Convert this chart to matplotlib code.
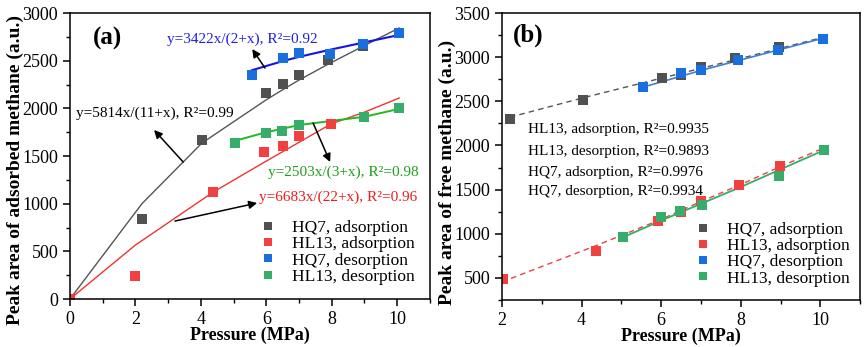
import matplotlib.pyplot as plt
from matplotlib.ticker import MultipleLocator

plt.rcParams['font.family'] = ['Liberation Serif', 'DejaVu Serif']
plt.rcParams['font.size'] = 13

# ---- panel (a): adsorbed methane ----
p_hq7_ads = [0, 2.2, 4.03, 6.0, 6.5, 7.0, 7.9, 8.97]
a_hq7_ads = [0, 840, 1668, 2160, 2255, 2350, 2505, 2652]
p_hl13_ads = [0, 2.0, 4.38, 5.93, 6.5, 7.0, 7.98, 9.0]
a_hl13_ads = [0, 245, 1122, 1542, 1605, 1710, 1836, 1905]
p_hq7_des = [5.56, 6.5, 7.0, 7.95, 8.97, 10.06]
a_hq7_des = [2350, 2527, 2578, 2575, 2670, 2790]
p_hl13_des = [5.05, 6.0, 6.48, 7.0, 9.0, 10.07]
a_hl13_des = [1640, 1740, 1762, 1825, 1909, 2000]

# fitted curves as drawn in the figure
fit_hq7_ads_x = [0, 2.2, 4.03, 6.0, 6.5, 7.0, 7.9, 8.97, 10.06]
fit_hq7_ads_y = [0, 1000, 1635, 2090, 2195, 2297, 2465, 2654, 2843]
fit_hl13_ads_x = [0, 2.0, 4.38, 5.93, 6.5, 7.0, 7.98, 9.0, 10.06]
fit_hl13_ads_y = [0, 566, 1122, 1433, 1545, 1644, 1837, 1960, 2108]
fit_hq7_des_x = [5.56, 6.5, 7.0, 7.95, 8.97, 10.06]
fit_hq7_des_y = [2400, 2495, 2540, 2615, 2690, 2770]
fit_hl13_des_x = [5.05, 6.0, 6.48, 7.0, 9.0, 10.07]
fit_hl13_des_y = [1660, 1750, 1785, 1825, 1912, 1995]

# ---- panel (b): free methane ----
pb_hq7_ads = [2.2, 4.04, 6.03, 6.49, 6.99, 7.86, 8.97]
b_hq7_ads = [2305, 2520, 2769, 2795, 2890, 2995, 3115]
pb_hl13_ads = [2.02, 4.37, 5.93, 6.5, 7.0, 7.96, 8.99]
b_hl13_ads = [485, 800, 1148, 1245, 1366, 1550, 1767]
pb_hq7_des = [5.54, 6.49, 6.99, 7.92, 8.93, 10.07]
b_hq7_des = [2663, 2821, 2852, 2973, 3086, 3210]
pb_hl13_des = [5.04, 6.0, 6.47, 7.02, 8.95, 10.08]
b_hl13_des = [968, 1193, 1254, 1325, 1655, 1950]

fitb_hq7_ads_x = [2.2, 4.04, 6.03, 7.86, 10.07]
fitb_hq7_ads_y = [2320, 2540, 2765, 2970, 3225]
fitb_hl13_ads_x = [2.0, 4.37, 5.93, 7.0, 7.96, 8.99, 10.07]
fitb_hl13_ads_y = [455, 867, 1150, 1365, 1550, 1760, 1970]
fitb_hq7_des_x = [5.54, 7.0, 8.93, 10.07]
fitb_hq7_des_y = [2660, 2850, 3080, 3215]
fitb_hl13_des_x = [5.04, 6.0, 7.0, 8.0, 8.95, 10.08]
fitb_hl13_des_y = [960, 1150, 1340, 1530, 1720, 1945]

labels = ["HQ7, adsorption", "HL13, adsorption", "HQ7, desorption", "HL13, desorption"]
colors = ['#515151', '#F14040', '#1A6FDF', '#37AD6B']
r2_text = ["HL13, adsorption, R²=0.9935", "HL13, desorption, R²=0.9893",
           "HQ7, adsorption, R²=0.9976", "HQ7, desorption, R²=0.9934"]

fig = plt.figure(figsize=(8.68, 3.47), dpi=100)
ax1 = fig.add_axes([0.0806, 0.1383, 0.4147, 0.8242])
ax2 = fig.add_axes([0.5783, 0.1355, 0.4128, 0.8270])

def style(ax):
    for s in ax.spines.values():
        s.set_linewidth(1.1)
    ax.tick_params(which='major', direction='out', length=5, width=1.1, labelsize=13)
    ax.tick_params(which='minor', direction='out', length=3, width=1.0)
    ax.xaxis.set_major_locator(MultipleLocator(2))
    ax.xaxis.set_minor_locator(MultipleLocator(1))
    ax.yaxis.set_major_locator(MultipleLocator(500))
    ax.yaxis.set_minor_locator(MultipleLocator(250))
    ax.set_xlabel("Pressure (MPa)", fontsize=13, fontweight='bold', labelpad=-1)

leg_kw = dict(loc='upper left', frameon=False, fontsize=12.5, borderpad=0, borderaxespad=0,
              labelspacing=0.0, handlelength=1.0, handletextpad=0.9, markerscale=0.75)

# panel (a)
ax1.plot(fit_hq7_ads_x, fit_hq7_ads_y, color='#555555', lw=1.0)
ax1.plot(fit_hl13_ads_x, fit_hl13_ads_y, color='#ee3333', lw=1.0)
ax1.plot(fit_hq7_des_x, fit_hq7_des_y, color='#1414e6', lw=1.5)
ax1.plot(fit_hl13_des_x, fit_hl13_des_y, color='#22b822', lw=1.4)
series_a = [(p_hq7_ads, a_hq7_ads), (p_hl13_ads, a_hl13_ads),
            (p_hq7_des, a_hq7_des), (p_hl13_des, a_hl13_des)]
for (x, y), c, lab in zip(series_a, colors, labels):
    ax1.plot(x, y, 's', color=c, ms=7.5, mew=0, label=lab)

ax1.set_xlim(0, 11)
ax1.set_ylim(0, 3000)
style(ax1)
ax1.set_ylabel("Peak area of adsorbed methane (a.u.)", fontsize=14, fontweight='bold')
ax1.yaxis.set_label_coords(-0.128, 0.45)
ax1.text(0.7, 2738, "(a)", fontsize=18, fontweight='bold', va='center')

arrow = dict(arrowstyle='-|>', color='black', lw=1.1, mutation_scale=12, shrinkA=0, shrinkB=0)
ax1.text(2.97, 2727, "y=3422x/(2+x), R²=0.92", color='#2020e0', fontsize=11, va='center')
ax1.annotate("", xy=(5.57, 2622), xytext=(5.96, 2423), arrowprops=arrow)
ax1.text(0.18, 1951, "y=5814x/(11+x), R²=0.99", color='black', fontsize=11, va='center')
ax1.annotate("", xy=(2.57, 1773), xytext=(3.46, 1437), arrowprops=arrow)
ax1.text(6.06, 1332, "y=2503x/(3+x), R²=0.98", color='#1f9f1f', fontsize=11, va='center')
ax1.annotate("", xy=(7.95, 1437), xytext=(7.43, 1846), arrowprops=arrow)
ax1.text(5.78, 1070, "y=6683x/(22+x), R²=0.96", color='#ee1c1c', fontsize=11, va='center')
ax1.annotate("", xy=(5.72, 1007), xytext=(3.21, 818), arrowprops=arrow)

ax1.legend(bbox_to_anchor=(0.525, 0.276), **leg_kw)

# panel (b)
ax2.plot(fitb_hq7_ads_x, fitb_hq7_ads_y, color='#555555', lw=1.0, dashes=(4, 3))
ax2.plot(fitb_hq7_des_x, fitb_hq7_des_y, color='#3f7fd0', lw=1.2)
ax2.plot(fitb_hl13_ads_x, fitb_hl13_ads_y, color='#F14040', lw=1.0, dashes=(4, 3))
ax2.plot(fitb_hl13_des_x, fitb_hl13_des_y, color='#37AD6B', lw=1.3)
series_b = [(pb_hq7_ads, b_hq7_ads), (pb_hl13_ads, b_hl13_ads),
            (pb_hq7_des, b_hq7_des), (pb_hl13_des, b_hl13_des)]
for (x, y), c, lab in zip(series_b, colors, labels):
    ax2.plot(x, y, 's', color=c, ms=7.5, mew=0, label=lab)

ax2.set_xlim(2, 11)
ax2.set_ylim(250, 3500)
style(ax2)
ax2.set_ylabel("Peak area of free methane (a.u.)", fontsize=14, fontweight='bold')
ax2.yaxis.set_label_coords(-0.128, 0.446)
ax2.text(2.28, 3249, "(b)", fontsize=18, fontweight='bold', va='center')
for yv, t in zip([2180, 1932, 1696, 1482], r2_text):
    ax2.text(2.65, yv, t, fontsize=11, va='center')

ax2.legend(bbox_to_anchor=(0.537, 0.272), **leg_kw)

plt.savefig("out.png", dpi=100)
